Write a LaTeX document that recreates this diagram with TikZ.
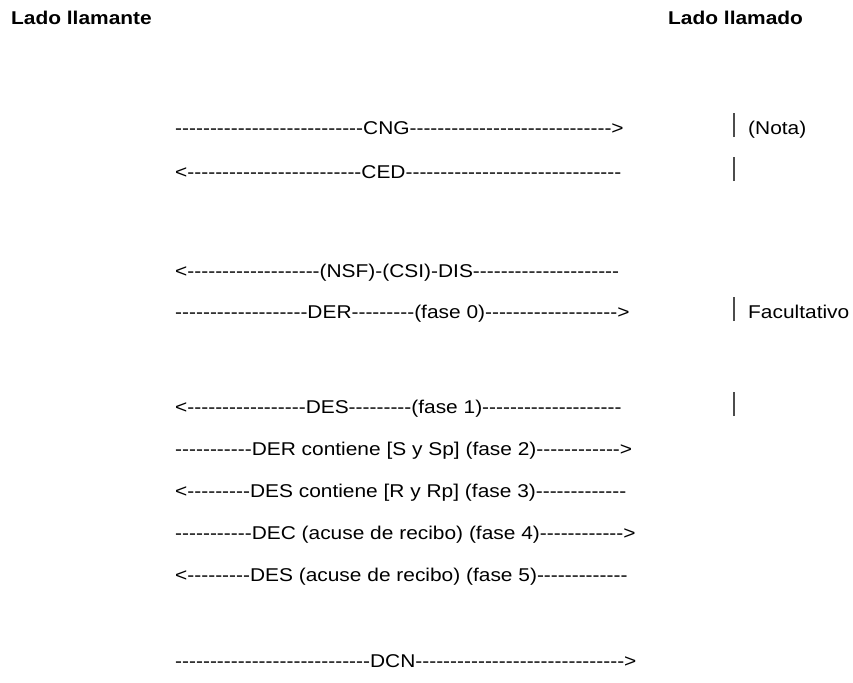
\documentclass[tikz,border=0pt]{standalone}
\usepackage{fontspec}
\setmainfont{Liberation Sans}[Ligatures=TeXOff, FakeStretch=1.13]
\usepackage{tikz}
\usetikzlibrary{positioning}
\ExplSyntaxOn
\NewDocumentCommand{\dashes}{m}{\prg_replicate:nn{#1}{-}}
\ExplSyntaxOff
\newcommand{\txtsize}{\fontsize{18.5}{22}\selectfont}
\tikzset{
  msg/.style ={anchor=base west, inner sep=0pt, font=\txtsize},
  hdr/.style ={anchor=base west, inner sep=0pt, font=\txtsize\bfseries},
  note/.style={anchor=base west, inner sep=0pt, font=\txtsize},
  bar/.style ={draw=black!70, line width=1.2pt},
}

\begin{document}
\begin{tikzpicture}[x=1pt, y=-1pt]
  \useasboundingbox (0,0) rectangle (853,682);
  \coordinate (rail) at (748,0);
  \coordinate (barx) at (734,0);

  \node[hdr] (caller) at (11,25) {Lado llamante};
  \node[hdr] (callee) at (668,25) {Lado llamado};

  \node[msg] (cng) at (175,134) {\dashes{27}CNG\dashes{29}>};
  \node[below=44pt of cng.base west, msg] (ced) {<\dashes{25}CED\dashes{31}};

  \node[below=99pt of ced.base west, msg] (dis) {<\dashes{19}(NSF)-(CSI)-DIS\dashes{21}};
  \node[below=41pt of dis.base west, msg] (der0) {\dashes{19}DER\dashes{9}(fase 0)\dashes{19}>};

  \node[below=95pt of der0.base west, msg] (des1) {<\dashes{17}DES\dashes{9}(fase 1)\dashes{20}};
  \node[below=42pt of des1.base west, msg] (der2) {\dashes{11}DER contiene [S y Sp] (fase 2)\dashes{12}>};
  \node[below=42pt of der2.base west, msg] (des3) {<\dashes{9}DES contiene [R y Rp] (fase 3)\dashes{13}};
  \node[below=42pt of des3.base west, msg] (dec4) {\dashes{11}DEC (acuse de recibo) (fase 4)\dashes{12}>};
  \node[below=42pt of dec4.base west, msg] (des5) {<\dashes{9}DES (acuse de recibo) (fase 5)\dashes{13}};

  \node[below=86pt of des5.base west, msg] (dcn) {\dashes{28}DCN\dashes{30}>};

  % side notes
  \node[note] (nota) at (cng.base -| rail) {(Nota)};
  \node[note] (facult) at (der0.base -| rail) {Facultativo};
  \foreach \row in {cng, ced, der0, des1}
    \draw[bar] (\row.base -| barx) ++(0,3) -- ++(0,-24);
\end{tikzpicture}
\end{document}
